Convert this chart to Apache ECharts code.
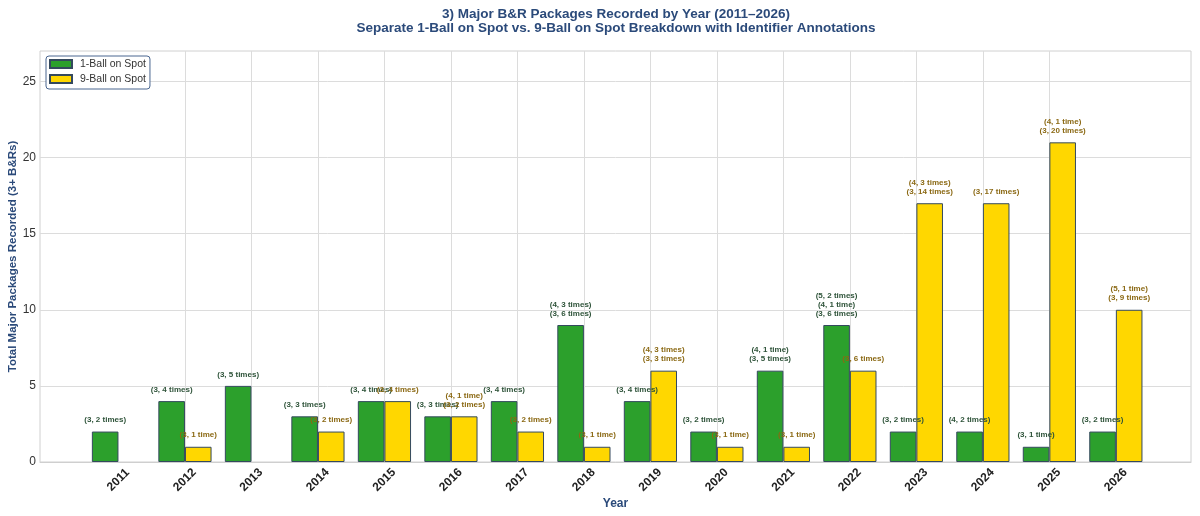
<!DOCTYPE html>
<html><head><meta charset="utf-8">
<script src="https://cdn.jsdelivr.net/npm/echarts@6/dist/echarts.min.js"></script>
<style>html,body{margin:0;padding:0;background:#fff}#c{width:1200px;height:516px}</style>
</head><body><div id="c"></div>
<script>
const years = [2011,2012,2013,2014,2015,2016,2017,2018,2019,2020,2021,2022,2023,2024,2025,2026];
const oneBall = [2,4,5,3,4,3,4,9,4,2,6,9,2,2,1,2];
const nineBall = [0,1,0,2,4,3,2,1,6,1,1,6,17,17,21,10];
const oneBallNotes = [
  "(3, 2 times)","(3, 4 times)","(3, 5 times)","(3, 3 times)","(3, 4 times)","(3, 3 times)","(3, 4 times)",
  "(4, 3 times)\n(3, 6 times)","(3, 4 times)","(3, 2 times)","(4, 1 time)\n(3, 5 times)",
  "(5, 2 times)\n(4, 1 time)\n(3, 6 times)","(3, 2 times)","(4, 2 times)","(3, 1 time)","(3, 2 times)"
];
const nineBallNotes = [
  "","(3, 1 time)","","(3, 2 times)","(3, 4 times)","(4, 1 time)\n(3, 2 times)","(3, 2 times)",
  "(3, 1 time)","(4, 3 times)\n(3, 3 times)","(3, 1 time)","(3, 1 time)","(3, 6 times)",
  "(4, 3 times)\n(3, 14 times)","(3, 17 times)","(4, 1 time)\n(3, 20 times)","(5, 1 time)\n(3, 9 times)"
];
const yTicks = [0,5,10,15,20,25];

const FONT = '"Liberation Sans", Arial, sans-serif';
const BLUE = '#2b4a7a';
const chart = echarts.init(document.getElementById('c'));

function noteLabel(notes, color) {
  return {
    show: true, position: 'top', distance: 7,
    formatter: p => notes[p.dataIndex],
    fontFamily: FONT, fontSize: 8, fontWeight: 'bold', lineHeight: 9, color: color
  };
}

chart.setOption({
  animation: false,
  backgroundColor: '#fff',
  title: {
    text: '3) Major B&R Packages Recorded by Year (2011\u20132026)\nSeparate 1-Ball on Spot vs. 9-Ball on Spot Breakdown with Identifier Annotations',
    left: 616, top: 7, padding: 0, textAlign: 'center',
    textStyle: { fontFamily: FONT, fontSize: 13.5, fontWeight: 'bold', color: BLUE, lineHeight: 14 }
  },
  legend: {
    orient: 'vertical', left: 46, top: 56,
    data: ['1-Ball on Spot', '9-Ball on Spot'],
    icon: 'rect', itemWidth: 22, itemHeight: 8, itemGap: 3,
    padding: [2, 4, 4, 3],
    borderColor: '#4a6690', borderWidth: 1, borderRadius: 3, backgroundColor: '#fff',
    textStyle: { fontFamily: FONT, fontSize: 10.5, color: '#333', lineHeight: 12, padding: [0,0,0,3] }
  },
  grid: { left: 40, right: 9, top: 51, bottom: 54, show: true, borderColor: '#d0d0d0', borderWidth: 1,
          containLabel: false, outerBoundsMode: 'none' },
  xAxis: {
    type: 'value', min: years[0] - 1.18, max: years[years.length - 1] + 1.13,
    name: 'Year', nameLocation: 'middle', nameGap: 36, nameMoveOverlap: false,
    nameTextStyle: { fontFamily: FONT, fontSize: 12, fontWeight: 'bold', color: BLUE },
    axisLine: { show: true, lineStyle: { color: '#cfcfcf' } },
    axisTick: { show: false, customValues: years },
    axisLabel: {
      customValues: years, rotate: 45, align: 'center', verticalAlign: 'middle', margin: 18,
      fontFamily: FONT, fontSize: 12, fontWeight: 'bold', color: '#222',
      formatter: v => String(Math.round(v))
    },
    splitLine: { show: true, showMinLine: false, showMaxLine: false, lineStyle: { color: '#dcdcdc', width: 1 } }
  },
  yAxis: {
    type: 'value', min: 0, max: 27, interval: 5,
    name: 'Total Major Packages Recorded (3+ B&Rs)', nameLocation: 'middle', nameGap: 21, nameMoveOverlap: false,
    nameTextStyle: { fontFamily: FONT, fontSize: 11.5, fontWeight: 'bold', color: BLUE },
    axisLine: { show: false }, axisTick: { show: false },
    axisLabel: { margin: 4, fontFamily: FONT, fontSize: 12, color: '#333',
      customValues: yTicks },
    splitLine: { show: true, showMaxLine: false, lineStyle: { color: '#dcdcdc', width: 1 } }
  },
  series: [
    {
      name: '1-Ball on Spot', type: 'bar', barWidth: '40%', barGap: '0%',
      data: years.map((y, i) => [y, oneBall[i] || '-']),
      itemStyle: { color: '#2ca02c', borderColor: '#34495e', borderWidth: 1 },
      label: noteLabel(oneBallNotes, '#2e5339')
    },
    {
      name: '9-Ball on Spot', type: 'bar', barWidth: '40%', barGap: '0%',
      data: years.map((y, i) => [y, nineBall[i] || '-']),
      itemStyle: { color: '#ffd700', borderColor: '#34495e', borderWidth: 1 },
      label: noteLabel(nineBallNotes, '#8b6914')
    }
  ]
});
</script></body></html>
